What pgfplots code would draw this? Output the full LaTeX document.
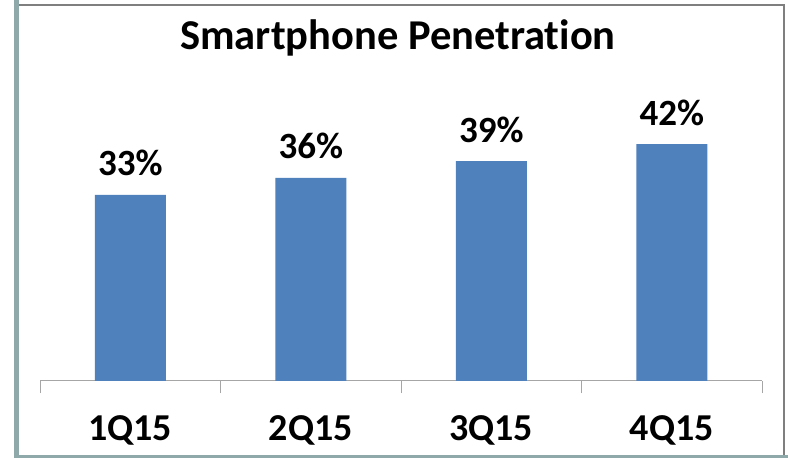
\documentclass[border=0pt]{standalone}
\usepackage{pgfplots}
\pgfplotsset{compat=1.18}
\usepackage{fontspec}
\setmainfont{Carlito}[Ligatures={NoCommon}]
\definecolor{barblue}{HTML}{4F81BD}
\definecolor{frameteal}{HTML}{8FA9AB}
\definecolor{framegray}{HTML}{7F7F7F}
\definecolor{axgray}{HTML}{A6A6A6}
\begin{document}
\begin{tikzpicture}[x=1pt,y=1pt]
\path[use as bounding box] (0,0) rectangle (788,458);
\fill[white] (0,0) rectangle (788,458);
% frame
\fill[framegray] (19,452) rectangle (785,454);
\fill[framegray] (783,3) rectangle (785,454);
\fill[frameteal] (14,0) rectangle (19,458);
\fill[frameteal] (14,0) rectangle (788,3);
\node[anchor=base,font=\fontsize{42.5}{45}\selectfont\bfseries] at (398,408) {Smartphone Penetration};
\begin{axis}[
  at={(40pt,77pt)}, anchor=south west,
  scale only axis, width=722pt, height=282pt,
  ymin=0, ymax=50, xmin=-0.5, xmax=3.5,
  axis y line=none, axis x line*=bottom,
  x axis line style={draw=axgray, line width=1pt, -},
  xtick={-0.5,0.5,1.5,2.5,3.5}, xticklabels={},
  xtick pos=bottom, tick align=outside,
  major tick length=12pt,
  x tick style={draw=axgray, line width=1pt},
  extra x ticks={0,1,2,3},
  extra x tick labels={1Q15,2Q15,3Q15,4Q15},
  extra x tick style={major tick length=0pt, tick label style={font=\fontsize{38}{40}\selectfont\bfseries, yshift=-30pt, text height=26pt, text depth=0pt}},
  /pgf/number format/assume math mode=true,
  ybar, bar width=71pt,
  nodes near coords={\pgfmathprintnumber{\pgfplotspointmeta}\%},
  every node near coord/.append style={font=\fontsize{37}{40}\selectfont\bfseries, anchor=base, yshift=19pt, text=black},
  clip=false,
]
\addplot[fill=barblue, draw=none] coordinates {(0,33) (1,36) (2,39) (3,42)};
\end{axis}
\end{tikzpicture}
\end{document}
